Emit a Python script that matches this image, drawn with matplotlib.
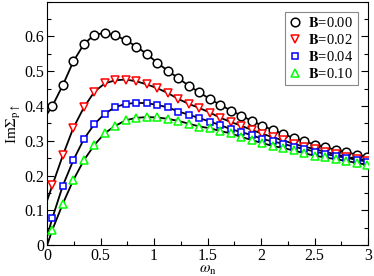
import numpy as np
import matplotlib
matplotlib.use('Agg')
import matplotlib.pyplot as plt
from matplotlib.ticker import MultipleLocator

plt.rcParams['font.family'] = ['Liberation Serif', 'DejaVu Serif']
plt.rcParams['mathtext.fontset'] = 'stix'

# Matsubara frequencies (marker positions)
omega = [0.049, 0.147, 0.245, 0.344, 0.442, 0.540, 0.638, 0.736, 0.834, 0.933,
         1.031, 1.129, 1.227, 1.325, 1.424, 1.522, 1.620, 1.718, 1.816, 1.914,
         2.013, 2.111, 2.209, 2.307, 2.405, 2.503, 2.601, 2.700, 2.798, 2.896,
         2.994]

# Im Sigma for each field value
b000 = [0.400, 0.460, 0.528, 0.578, 0.605, 0.610, 0.603, 0.589, 0.571, 0.549,
        0.524, 0.501, 0.480, 0.458, 0.439, 0.420, 0.403, 0.387, 0.372, 0.357,
        0.343, 0.331, 0.319, 0.308, 0.298, 0.289, 0.281, 0.274, 0.267, 0.260,
        0.253]
b002 = [0.172, 0.258, 0.337, 0.396, 0.441, 0.465, 0.474, 0.476, 0.471, 0.462,
        0.451, 0.437, 0.420, 0.406, 0.394, 0.381, 0.366, 0.354, 0.343, 0.331,
        0.320, 0.310, 0.301, 0.291, 0.283, 0.276, 0.268, 0.261, 0.254, 0.248,
        0.243]
b004 = [0.078, 0.171, 0.244, 0.305, 0.348, 0.378, 0.397, 0.406, 0.409, 0.408,
        0.403, 0.396, 0.384, 0.375, 0.365, 0.355, 0.345, 0.333, 0.325, 0.316,
        0.305, 0.298, 0.291, 0.283, 0.276, 0.269, 0.262, 0.256, 0.251, 0.245,
        0.240]
b010 = [0.044, 0.119, 0.187, 0.244, 0.288, 0.322, 0.343, 0.359, 0.366, 0.368,
        0.367, 0.363, 0.357, 0.349, 0.341, 0.336, 0.328, 0.321, 0.311, 0.302,
        0.293, 0.285, 0.279, 0.272, 0.264, 0.257, 0.252, 0.247, 0.242, 0.236,
        0.231]

# value of the solid curves at omega = 0
start = [0.377, 0.128, 0.025, 0.0]

labels = [r'$\mathbf{B}$=0.00', r'$\mathbf{B}$=0.02',
          r'$\mathbf{B}$=0.04', r'$\mathbf{B}$=0.10']
markers = ['o', 'v', 's', '^']
colors = ['black', 'red', 'blue', '#00ff00']
msizes = [6.2, 6.4, 4.8, 6.4]

xticks = [0, 0.5, 1, 1.5, 2, 2.5, 3]
xticklabels = ['0', '0.5', '1', '1.5', '2', '2.5', '3']
yticks = [0, 0.1, 0.2, 0.3, 0.4, 0.5, 0.6]
yticklabels = ['0', '0.1', '0.2', '0.3', '0.4', '0.5', '0.6']

fig = plt.figure(figsize=(3.74, 2.76), dpi=100)
ax = fig.add_axes([0.126, 0.112, 0.858, 0.882])

for y, y0, lab, m, c, ms in zip([b000, b002, b004, b010], start, labels,
                                markers, colors, msizes):
    ax.plot([0.0] + omega, [y0] + y, '-', color='black', lw=1.3, zorder=2)
    ax.plot(omega, y, linestyle='none', marker=m, ms=ms, mfc='white',
            mec=c, mew=1.1, label=lab, zorder=3)

ax.set_xlim(0, 3)
ax.set_ylim(0, 0.7)
ax.set_xticks(xticks)
ax.set_xticklabels(xticklabels)
ax.set_yticks(yticks)
ax.set_yticklabels(yticklabels)
ax.xaxis.set_minor_locator(MultipleLocator(0.25))
ax.yaxis.set_minor_locator(MultipleLocator(0.05))
ax.tick_params(which='both', direction='in', right=True, labelsize=11.5, pad=2)
ax.tick_params(which='major', length=5, width=0.8)
ax.tick_params(which='minor', length=3, width=0.8)

ax.set_xlabel(r'$\omega_{\rm n}$', fontsize=11, labelpad=0)
ax.set_ylabel(r'Im$\Sigma_{\rm p\uparrow}$', fontsize=11, labelpad=1)

leg = ax.legend(loc='upper right', fontsize=10.5, handlelength=0.8,
                handletextpad=0.5, labelspacing=0.2, borderpad=0.3,
                fancybox=False, framealpha=1, borderaxespad=0.7)
leg.get_frame().set_edgecolor('#888888')
leg.get_frame().set_linewidth(0.8)

fig.savefig('out.png', dpi=100)
